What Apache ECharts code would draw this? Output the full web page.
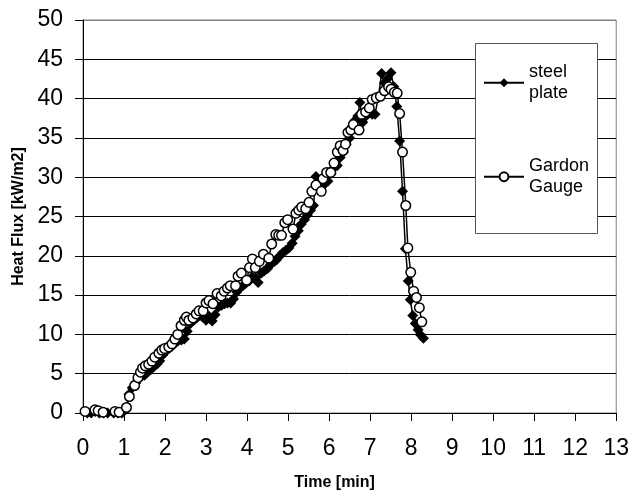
<!DOCTYPE html>
<html>
<head>
<meta charset="utf-8">
<script src="https://cdn.jsdelivr.net/npm/echarts@6/dist/echarts.min.js"></script>
<style>
html,body{margin:0;padding:0;background:#fff;}
#chart{width:632px;height:496px;}
</style>
</head>
<body>
<div id="chart"></div>
<script>
// Data: [time (min), heat flux (kW/m2)]
const seriesNames = ['steel\nplate', 'Gardon\nGauge'];
const steelPlate = [
  [0.1,0],[0.2,0],[0.3,0.2],[0.4,0],[0.5,0],[0.6,0],[0.75,0],[0.85,0],[0.95,0],
  [1.05,0.5],[1.12,2.4],[1.2,3.2],[1.28,3.8],[1.35,4.3],[1.42,4.6],[1.5,4.8],
  [1.57,5.2],[1.65,5.5],[1.72,5.9],[1.8,6.2],[1.87,6.6],[1.95,7.4],[2.02,7.9],
  [2.1,8.2],[2.17,8.5],[2.25,8.9],[2.32,9.2],[2.4,9.3],[2.47,9.4],[2.54,10.4],
  [2.62,11.4],[2.7,11.8],[2.77,12.1],[2.85,12.4],[2.92,12.2],[3.0,11.8],
  [3.07,12.3],[3.15,11.7],[3.22,12.5],[3.3,13.5],[3.38,13.7],[3.45,13.9],
  [3.52,14.0],[3.6,14.0],[3.67,14.5],[3.75,15.4],[3.82,15.9],[3.9,16.2],
  [3.97,16.5],[4.05,16.8],[4.12,17.3],[4.2,17.2],[4.27,16.6],[4.35,17.8],
  [4.42,18.1],[4.5,18.4],[4.57,18.9],[4.65,19.2],[4.72,19.5],[4.8,20.0],
  [4.87,20.4],[4.95,20.7],[5.02,21.0],[5.1,21.6],[5.17,22.5],[5.25,23.2],
  [5.32,24.0],[5.4,24.6],[5.47,25.2],[5.55,25.8],[5.62,26.4],[5.68,30.1],
  [5.75,28.6],[5.82,28.8],[5.9,29.2],[5.97,29.5],[6.05,30.5],[6.12,31.2],
  [6.2,31.5],[6.27,32.5],[6.35,33.2],[6.42,34.2],[6.5,35.0],[6.57,36.5],
  [6.63,37.2],[6.7,37.8],[6.75,39.5],[6.82,37.0],[6.9,37.8],[6.97,38.2],
  [7.05,38.0],[7.12,38.0],[7.2,40.2],[7.28,43.2],[7.35,42.0],[7.42,42.5],
  [7.51,43.3],[7.58,41.5],[7.65,39.0],[7.72,34.6],[7.79,28.2],[7.86,20.9],
  [7.93,16.8],[7.98,14.4],[8.04,12.4],[8.1,11.4],[8.17,10.6],[8.22,10.0],[8.3,9.5]
];
const gardonGauge = [
  [0.05,0.2],[0.29,0.4],[0.37,0.3],[0.49,0.1],[0.78,0.2],[0.88,0.1],[1.06,0.7],
  [1.13,2.1],[1.26,3.5],[1.34,4.5],[1.4,5.2],[1.45,5.7],[1.52,6.0],[1.6,6.2],
  [1.68,6.6],[1.75,7.1],[1.85,7.6],[1.92,8.0],[1.99,8.2],[2.09,8.4],[2.17,8.8],
  [2.24,9.4],[2.31,10.0],[2.39,11.1],[2.47,11.8],[2.52,12.2],[2.58,11.8],
  [2.68,12.1],[2.76,12.6],[2.83,13.0],[2.93,13.0],[3.0,14.0],[3.07,14.3],
  [3.17,13.9],[3.27,15.2],[3.37,14.9],[3.44,15.5],[3.52,15.9],[3.59,16.2],
  [3.72,16.2],[3.78,17.4],[3.86,17.8],[3.99,16.9],[4.06,18.5],[4.13,19.6],
  [4.2,18.5],[4.3,19.3],[4.4,20.2],[4.53,19.7],[4.6,21.5],[4.7,22.7],[4.77,22.6],
  [4.84,22.6],[4.92,24.2],[4.99,24.6],[5.12,23.4],[5.19,25.4],[5.26,25.8],
  [5.33,26.2],[5.43,26.0],[5.51,26.8],[5.58,28.2],[5.68,29.0],[5.81,28.2],
  [5.85,29.8],[5.94,30.6],[6.04,30.6],[6.12,31.8],[6.2,33.2],[6.27,34.0],
  [6.34,33.4],[6.4,34.2],[6.46,35.7],[6.53,36.0],[6.59,36.7],[6.73,36.0],
  [6.79,38.0],[6.89,38.3],[6.98,38.8],[7.05,39.9],[7.15,40.1],[7.25,40.3],
  [7.35,41.0],[7.45,41.5],[7.51,41.2],[7.59,40.8],[7.66,40.7],[7.72,38.1],
  [7.79,33.2],[7.87,26.4],[7.92,21.0],[7.99,17.9],[8.06,15.5],[8.13,14.7],
  [8.2,13.4],[8.26,11.6]
];
const xTicks = {min: 0, max: 13, interval: 1};
const yTicks = {min: 0, max: 50, interval: 5};
const xTitle = 'Time [min]';
const yTitle = 'Heat Flux [kW/m2]';

const FONT = 'Liberation Sans, Arial, sans-serif';
const chart = echarts.init(document.getElementById('chart'), null, {renderer: 'canvas'});
const gridColors = [];
for (let i = 0; i < 10; i++) gridColors.push('#000');
gridColors.push('#808080');

chart.setOption({
  animation: false,
  backgroundColor: '#fff',
  grid: {left: 83, top: 20, right: 15, bottom: 81, show: true, borderColor: '#808080', borderWidth: 1, backgroundColor: 'transparent'},
  xAxis: {
    type: 'value', min: xTicks.min, max: xTicks.max, interval: xTicks.interval,
    name: xTitle, nameLocation: 'middle', nameGap: 62,
    nameTextStyle: {fontFamily: FONT, fontWeight: 'bold', fontSize: 16, color: '#000', padding: [0, 30, 0, 0]},
    axisLine: {lineStyle: {color: '#000', width: 1}},
    axisTick: {show: true, inside: false, length: 8, lineStyle: {color: '#000'}},
    axisLabel: {fontFamily: FONT, fontSize: 23, color: '#000', margin: 24},
    splitLine: {show: false}
  },
  yAxis: {
    type: 'value', min: yTicks.min, max: yTicks.max, interval: yTicks.interval,
    name: yTitle, nameLocation: 'middle', nameGap: 56, nameRotate: 90,
    nameTextStyle: {fontFamily: FONT, fontWeight: 'bold', fontSize: 16, color: '#000'},
    axisLine: {lineStyle: {color: '#000', width: 1}},
    axisTick: {show: true, inside: false, length: 8, lineStyle: {color: '#000'}},
    axisLabel: {fontFamily: FONT, fontSize: 23, color: '#000', margin: 20},
    splitLine: {show: true, lineStyle: {color: gridColors, width: 1}}
  },
  graphic: [{
    type: 'rect', left: 475, top: 43, z: 5,
    shape: {width: 122, height: 190},
    style: {fill: '#fff', stroke: '#555', lineWidth: 1}
  }],
  legend: {
    orient: 'vertical', left: 483, top: 52, padding: 0, itemGap: 32.5, z: 10,
    itemWidth: 40, itemHeight: 11,
    textStyle: {fontFamily: FONT, fontSize: 18, color: '#000', lineHeight: 20.5, padding: [20.5, 0, 0, 0]},
    data: seriesNames
  },
  series: [{
    name: seriesNames[0], type: 'line', data: steelPlate,
    symbol: 'diamond', symbolSize: 11, showAllSymbol: true,
    lineStyle: {color: '#000', width: 1.5},
    itemStyle: {color: '#000', borderColor: '#000', borderWidth: 0}
  }, {
    name: seriesNames[1], type: 'line', data: gardonGauge,
    symbol: 'circle', symbolSize: 9.5, showAllSymbol: true,
    lineStyle: {color: '#000', width: 1.5},
    itemStyle: {color: '#fff', borderColor: '#000', borderWidth: 1.5}
  }]
});
</script>
</body>
</html>
